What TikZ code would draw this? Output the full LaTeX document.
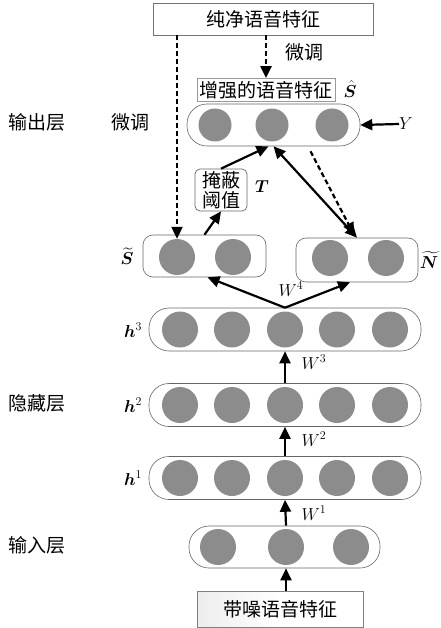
\documentclass[tikz,border=0pt]{standalone}
\usepackage{fontspec}
\usepackage{amsmath,bm}
\newfontfamily\cjk{Noto Sans CJK SC}
\usetikzlibrary{arrows.meta}
\begin{document}
\begin{tikzpicture}[x=1pt,y=-1pt,
  layer/.style={draw=black!60,line width=0.6pt,fill=white,rounded corners=20pt,inner sep=0pt},
  neuron/.style={circle,fill=black!45,minimum size=36pt,inner sep=0pt},
  zh/.style={font=\cjk\fontsize{19}{22}\selectfont,inner sep=0pt},
  mth/.style={font=\fontsize{18}{21}\selectfont,inner sep=0pt},
  arr/.style={line width=2.2pt,-{Triangle[length=12pt,width=11pt]}},
  darr/.style={line width=2.2pt,{Triangle[length=12pt,width=11pt]}-{Triangle[length=12pt,width=11pt]}},
  dsh/.style={line width=2.2pt,dash pattern=on 5pt off 3pt,-{Triangle[length=12pt,width=11pt]}},
  ]
\useasboundingbox (0,0) rectangle (440,628);
% top clean feature box
\node[draw=black!55,line width=0.7pt,minimum width=220pt,minimum height=32pt,zh] (clean) at (263,19) {纯净语音特征};
% enhanced feature label
\node[draw=black!40,line width=0.8pt,minimum width=138pt,minimum height=23pt,zh] (enh) at (266,90) {增强的语音特征};
\node[mth] (shat) at (350,89) {$\hat{\bm S}$};
% output layer
\node[layer,minimum width=173pt,minimum height=42pt] (out) at (273.5,125) {};
\foreach \x/\n in {215/o1,272/o2,332/o3}
  \node[neuron,minimum size=33pt] (\n) at (\x,125) {};
\node[mth] (Y) at (406,124) {$Y$};
\draw[arr] (Y.west) -- (out.east);
% layer names
\node[zh] (lout) at (37,122) {输出层};
\node[zh] (lhid) at (37,403) {隐藏层};
\node[zh] (lin) at (37,545) {输入层};
\node[zh] (ft1) at (130,122) {微调};
\node[zh] (ft2) at (304,52) {微调};
% S tilde box
\node[layer,rounded corners=10pt,minimum width=123pt,minimum height=42pt] (sbox) at (204.5,256) {};
\node[neuron] (s1) at (177,257) {};
\node[neuron] (s2) at (233,257) {};
\node[mth] (slab) at (127,256) {$\widetilde{\bm S}$};
% N tilde box
\node[layer,rounded corners=10pt,minimum width=122pt,minimum height=44pt] (nbox) at (357,260) {};
\node[neuron] (n1) at (330,258) {};
\node[neuron] (n2) at (386,258) {};
\node[mth] (nlab) at (429,260) {$\widetilde{\bm N}$};
% mask box
\node[draw=black!60,line width=0.7pt,rounded corners=5pt,minimum width=52pt,minimum height=42pt,inner sep=1pt,align=center,font=\cjk\fontsize{19}{20}\selectfont] (mask) at (221,190) {掩蔽\\阈值};
\node[mth] (tlab) at (262,187) {$\bm T$};
% hidden layers
\foreach \y/\n in {329.5/h3,405/h2,478/h1}{
  \node[layer,minimum width=272pt,minimum height=43pt] (\n) at (285,\y) {};
  \foreach \x/\k in {180/a,232/b,285/c,337/d,390/e}
    \node[neuron] (\n\k) at (\x,\y) {};
}
\node[mth] (lh3) at (133,330) {$\bm h^{3}$};
\node[mth] (lh2) at (133,405) {$\bm h^{2}$};
\node[mth] (lh1) at (133,478) {$\bm h^{1}$};
% input layer
\node[layer,minimum width=191pt,minimum height=42pt] (inp) at (284.5,547) {};
\foreach \x/\k in {218/a,286/b,351/c}
  \node[neuron] (in\k) at (\x,547) {};
% bottom box
\node[draw=black!50,line width=0.7pt,left color=black!7,right color=white,middle color=white,minimum width=166pt,minimum height=36pt,zh] (noisy) at (280,609) {带噪语音特征};
% W labels
\node[mth] (w4) at (291,289) {$W^{4}$};
\node[mth] (w3) at (314,362) {$W^{3}$};
\node[mth] (w2) at (314,439) {$W^{2}$};
\node[mth] (w1) at (314,513) {$W^{1}$};
% arrows
\draw[arr] (noisy.north -| inb) -- (inp.south -| inb);
\draw[arr] (inp.north -| inb) -- (h1.south);
\draw[arr] (h1.north) -- (h2.south);
\draw[arr] (h2.north) -- (h3.south);
\draw[arr] (h3.north) -- ([xshift=3pt]sbox.south);
\draw[arr] (h3.north) -- ([xshift=-7pt]nbox.south);
\draw[arr] (sbox.north) -- (mask.south);
\draw[arr] (mask.north) -- ([xshift=-5pt]out.south);
\draw[darr] (out.south) -- (nbox.north);
\draw[dsh] ([shift={(37pt,-5pt)}]out.south) -- ([shift={(-3pt,3pt)}]nbox.north);
\draw[dsh] (clean.south -| s1.north) -- (s1.north);
\draw[dsh] (clean.south -| enh.north) -- (enh.north);
\end{tikzpicture}
\end{document}
